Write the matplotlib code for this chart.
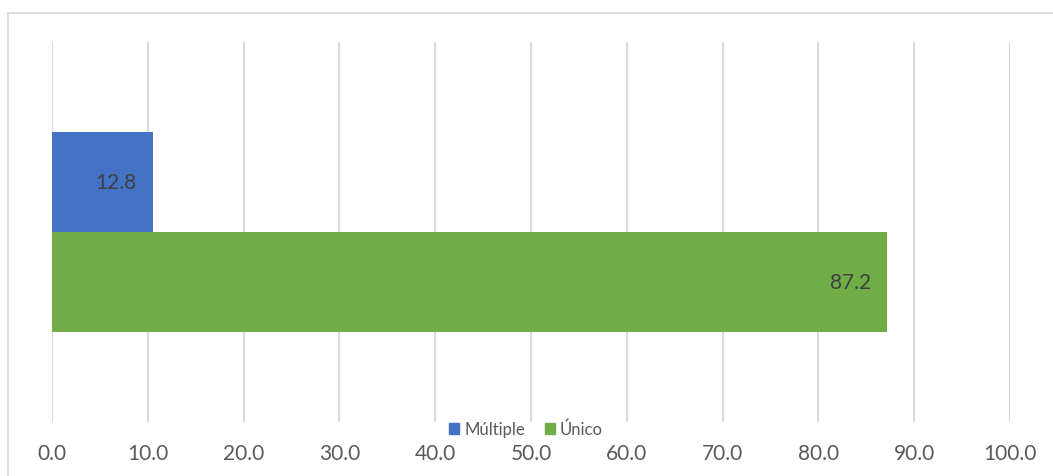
import matplotlib
matplotlib.use("Agg")
import matplotlib.pyplot as plt
from matplotlib.lines import Line2D
from matplotlib.patches import Patch

# data
series = ["Múltiple", "Único"]
bar_values = [10.5, 87.2]        # bar lengths as drawn
label_texts = ["12.8", "87.2"]   # data labels as printed
colors = ["#4472C4", "#70AD47"]
xticks = [0, 10, 20, 30, 40, 50, 60, 70, 80, 90, 100]

plt.rcParams['font.family'] = ['Lato', 'DejaVu Sans']

fig = plt.figure(figsize=(10.53, 4.77), dpi=100)
ax = fig.add_axes([52/1053, 1-423/477, (1010-52)/1053, (423-43)/477])

ypos = [0.5, -0.5]
for i in range(len(series)):
    ax.barh(ypos[i], bar_values[i], height=1.0, color=colors[i], zorder=3)
    ax.text(bar_values[i] - 1.7, ypos[i], label_texts[i], ha='right', va='center',
            fontsize=15, color='#404040', zorder=4)

ax.set_xlim(0, 100)
ax.set_ylim(-1.9, 1.9)
ax.set_xticks(xticks)
ax.set_xticklabels([f"{t:.1f}" for t in xticks], fontsize=15, color='#595959')
ax.set_yticks([])
ax.tick_params(axis='x', length=0, pad=15)
ax.grid(axis='x', color='#d9d9d9', linewidth=1.5, zorder=0)
for s in ax.spines.values():
    s.set_visible(False)

# chart frame (top and left edges visible)
fig.add_artist(Line2D([8/1053, 1], [1-14/477, 1-14/477], color='#d9d9d9', linewidth=1.2))
fig.add_artist(Line2D([8/1053, 8/1053], [0, 1-14/477], color='#d9d9d9', linewidth=1.2))

handles = [Patch(color=c, label=s) for s, c in zip(series, colors)]
fig.legend(handles=handles, loc='center', bbox_to_anchor=(526/1053, 1-430/477),
           ncol=2, frameon=False, fontsize=12, handlelength=0.6, handleheight=0.6,
           handletextpad=0.3, columnspacing=1.2, labelcolor='#595959')

fig.savefig("out.png", dpi=100)
